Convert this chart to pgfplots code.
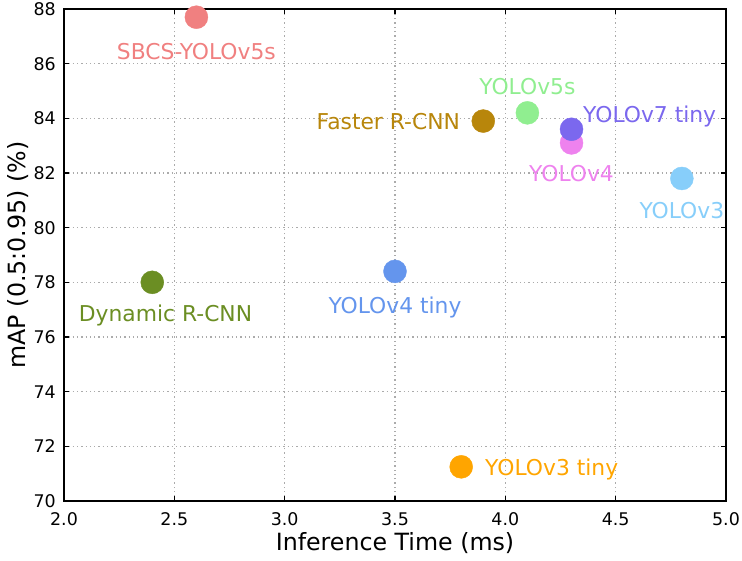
\documentclass[border=0pt]{standalone}
\usepackage{fontspec}
\setmainfont{DejaVu Sans}
\usepackage{pgfplots}
\pgfplotsset{compat=1.18}
\definecolor{clightcoral}{HTML}{F08080}
\definecolor{clightgreen}{HTML}{90EE90}
\definecolor{cgold}{HTML}{B8860B}
\definecolor{cslate}{HTML}{7B68EE}
\definecolor{cviolet}{HTML}{EE82EE}
\definecolor{csky}{HTML}{87CEFA}
\definecolor{colive}{HTML}{6B8E23}
\definecolor{ccorn}{HTML}{6495ED}
\definecolor{corange}{HTML}{FFA500}
\definecolor{cgrid}{HTML}{ABABAB}
\newcommand{\lblfont}{\fontsize{21.9}{25}\selectfont}
\begin{document}
\begin{tikzpicture}
\begin{axis}[
  at={(0,0)}, anchor=south west,
  scale only axis, width=662bp, height=492bp,
  xmin=2, xmax=5, ymin=70, ymax=88,
  xtick={2,2.5,...,5}, ytick={70,72,...,88},
  /pgf/number format/assume math mode=true,
  xticklabel={\pgfmathprintnumber[fixed,fixed zerofill,precision=1]{\tick}},
  yticklabel={\pgfmathprintnumber[fixed,precision=0]{\tick}},
  tick align=inside, major tick length=5bp,
  tick style={black, line width=1.1bp},
  axis line style={black, line width=1.2bp},
  grid=major,
  major grid style={cgrid, line width=1.1bp, dash pattern=on 1.3bp off 3bp},
  tick label style={font=\fontsize{17.5}{20}\selectfont},
  xticklabel style={anchor=base, yshift=-24bp},
  yticklabel style={anchor=east, inner sep=0pt, xshift=-8bp},
  label style={font=\fontsize{23.8}{27}\selectfont},
  xlabel={Inference Time (ms)},
  ylabel={mAP (0.5:0.95) (\%)},
  xlabel style={at={(axis description cs:0.5,-0.1016)}, anchor=base, inner sep=0pt},
  ylabel style={at={(axis description cs:-0.0574,0.5)}, anchor=base, inner sep=0pt},
]
\addplot[only marks, mark=*, mark size=11.5bp, color=clightcoral] coordinates {(2.6,87.7)};
\addplot[only marks, mark=*, mark size=11.5bp, color=cgold] coordinates {(3.9,83.9)};
\addplot[only marks, mark=*, mark size=11.5bp, color=clightgreen] coordinates {(4.1,84.2)};
\addplot[only marks, mark=*, mark size=11.5bp, color=cviolet] coordinates {(4.3,83.1)};
\addplot[only marks, mark=*, mark size=11.5bp, color=cslate] coordinates {(4.3,83.6)};
\addplot[only marks, mark=*, mark size=11.5bp, color=csky] coordinates {(4.8,81.8)};
\addplot[only marks, mark=*, mark size=11.5bp, color=colive] coordinates {(2.4,78.0)};
\addplot[only marks, mark=*, mark size=11.5bp, color=ccorn] coordinates {(3.5,78.4)};
\addplot[only marks, mark=*, mark size=11.5bp, color=corange] coordinates {(3.8,71.25)};
\node[anchor=base, inner sep=0pt, text=clightcoral, font=\lblfont] at (axis cs:2.6,86.14) {SBCS-YOLOv5s};
\node[anchor=base, inner sep=0pt, text=clightgreen, font=\lblfont] at (axis cs:4.1,84.88) {YOLOv5s};
\node[anchor=base east, inner sep=0pt, text=cgold, font=\lblfont] at (axis cs:3.795,83.60) {Faster R-CNN};
\node[anchor=base west, inner sep=0pt, text=cslate, font=\lblfont] at (axis cs:4.352,83.86) {YOLOv7 tiny};
\node[anchor=base, inner sep=0pt, text=cviolet, font=\lblfont] at (axis cs:4.3,81.68) {YOLOv4};
\node[anchor=base, inner sep=0pt, text=csky, font=\lblfont] at (axis cs:4.8,80.34) {YOLOv3};
\node[anchor=base, inner sep=0pt, text=colive, font=\lblfont] at (axis cs:2.46,76.56) {Dynamic R-CNN};
\node[anchor=base, inner sep=0pt, text=ccorn, font=\lblfont] at (axis cs:3.5,76.87) {YOLOv4 tiny};
\node[anchor=base west, inner sep=0pt, text=corange, font=\lblfont] at (axis cs:3.908,70.95) {YOLOv3 tiny};
\end{axis}
\pgfresetboundingbox
\path[use as bounding box] (-64bp,-60bp) rectangle (678bp,501bp);
\end{tikzpicture}
\end{document}
